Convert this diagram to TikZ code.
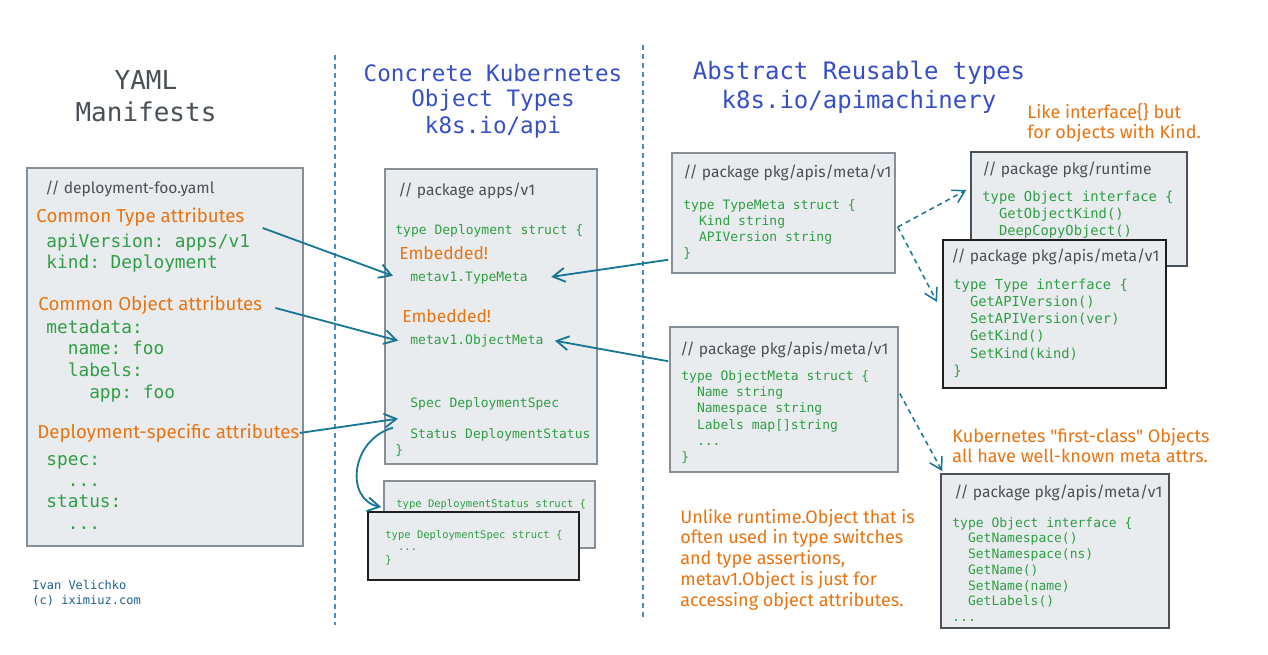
\documentclass[tikz,border=0pt]{standalone}
\usepackage{fontspec}
\setmainfont{Fira Sans}
\setmonofont{DejaVu Sans Mono}
\newfontfamily\quotefont{Fira Sans}[Ligatures=TeXOff]
\usetikzlibrary{arrows.meta,fit}

\definecolor{codegreen}{RGB}{47,158,68}
\definecolor{noteorange}{RGB}{235,115,15}
\definecolor{titleblue}{RGB}{54,79,199}
\definecolor{titlegray}{RGB}{73,80,87}
\definecolor{linkteal}{RGB}{22,118,148}
\definecolor{sepblue}{RGB}{74,140,196}
\definecolor{boxfill}{RGB}{233,236,239}
\definecolor{boxline}{RGB}{134,142,150}
\definecolor{darkline}{RGB}{73,80,87}
\definecolor{cmtgray}{RGB}{73,80,87}
\definecolor{creditblue}{RGB}{28,96,140}

\newcommand{\codedots}{.{}.{}.}
\newcommand{\straightquote}{{\quotefont\symbol{34}}}

\tikzset{
  codebox/.style={draw=boxline, fill=boxfill, line width=0.75pt, inner sep=0pt},
  darkbox/.style={codebox, draw=darkline},
  blackbox/.style={codebox, draw=black!88, line width=1pt},
  code/.style={text=codegreen, font=\ttfamily\fontsize{6.5pt}{8pt}\selectfont, inner sep=0pt, anchor=mid west},
  midcode/.style={code, font=\ttfamily\fontsize{6.9pt}{8pt}\selectfont},
  bigcode/.style={code, font=\ttfamily\fontsize{8.9pt}{10pt}\selectfont},
  smallcode/.style={code, font=\ttfamily\fontsize{5.25pt}{6pt}\selectfont},
  cmt/.style={text=cmtgray, font=\fontsize{7.8pt}{10pt}\selectfont, inner sep=0pt, anchor=mid west},
  note/.style={text=noteorange, font=\fontsize{9pt}{10pt}\selectfont, inner sep=0pt, anchor=mid west},
  bignote/.style={note, font=\fontsize{9.35pt}{12pt}\selectfont},
  title/.style={text=titleblue, font=\ttfamily\fontsize{11.3pt}{13pt}\selectfont, inner sep=0pt},
  credit/.style={text=creditblue, font=\ttfamily\fontsize{6pt}{7pt}\selectfont, inner sep=0pt, anchor=mid west},
  sep/.style={draw=sepblue, line width=1pt, dash pattern=on 2.5pt off 2pt},
  link/.style={-{Straight Barb[length=6pt,width=7pt]}, draw=linkteal, line width=0.9pt},
  dlink/.style={link, line width=0.75pt, dash pattern=on 2.5pt off 2pt}
}

\begin{document}
\begin{tikzpicture}[x=0.5pt, y=-0.5pt]
    \useasboundingbox[fill=white] (0,0) rectangle (1268,654);

    % Separators
    \draw[sep] (335,55) -- (335,625);
    \draw[sep] (643,45) -- (643,620);

    % Titles
    \node[title, text=titlegray, font=\ttfamily\fontsize{13pt}{15pt}\selectfont] (yaml0) at (146,80) {YAML};
    \node[title, text=titlegray, font=\ttfamily\fontsize{13pt}{15pt}\selectfont] (yaml1) at (146,112) {Manifests};
    \foreach \t [count=\i from 0] in {Concrete Kubernetes, Object Types, k8s.io/api}
        \node[title] (conc\i) at (493,73+27*\i) {\t};
    \foreach \t [count=\i from 0] in {Abstract Reusable types, k8s.io/apimachinery}
        \node[title, font=\ttfamily\fontsize{12pt}{14pt}\selectfont] (abst\i) at (859,73+29*\i) {\t};

    % YAML manifest
    \node[codebox, fit={(27,168) (303,546)}] (yamlbox) {};
    \node[cmt] (yamlcmt) at (45,188) {// deployment-foo.yaml};
    \node[bignote] (cta) at (36,217) {Common Type attributes};
    \foreach \t [count=\i from 0] in {apiVersion: apps/v1, kind: Deployment}
        \node[bigcode] (ya\i) at (46,242+21.5*\i) {\t};
    \node[bignote] (coa) at (38,305) {Common Object attributes};
    \foreach \t [count=\i from 0] in {metadata:, \ \ name: foo, \ \ labels:, \ \ \ \ app: foo}
        \node[bigcode] (yb\i) at (46,328+21.7*\i) {\t};
    \node[bignote] (dsa) at (37,433) {Deployment-specific attributes};
    \foreach \t [count=\i from 0] in {spec:, \ \ \codedots, status:, \ \ \codedots}
        \node[bigcode] (yc\i) at (46,460+21.3*\i) {\t};

    % Credit
    \foreach \t [count=\i from 0] in {Ivan Velichko, (c) iximiuz.com}
        \node[credit] (credit\i) at (32,584+15*\i) {\t};

    % Deployment struct
    \node[codebox, fit={(385,169) (597,464)}] (depbox) {};
    \node[cmt] (depcmt) at (398,190) {// package apps/v1};
    \node[code] (dep0) at (395,229) {type Deployment struct \{};
    \node[note, font=\fontsize{8.7pt}{10pt}\selectfont] (emb1) at (399,254) {Embedded!};
    \node[code] (tmfield) at (410,276) {metav1.TypeMeta};
    \node[note, font=\fontsize{8.7pt}{10pt}\selectfont] (emb2) at (402,317) {Embedded!};
    \node[code] (omfield) at (410,339) {metav1.ObjectMeta};
    \node[code] (specfield) at (410,402) {Spec DeploymentSpec};
    \node[code] (statusfield) at (410,433) {Status DeploymentStatus};
    \node[code] (dep1) at (395,449) {\}};

    % Spec and Status structs
    \node[codebox, fit={(384,481) (595,548)}] (statusbox) {};
    \node[smallcode] (st0) at (396,502) {type DeploymentStatus struct \{};
    \node[blackbox, fit={(368,512) (579,580)}] (specbox) {};
    \foreach \t [count=\i from 0] in {type DeploymentSpec struct \{, \ \ \codedots, \}}
        \node[smallcode] (sp\i) at (385,533+12.5*\i) {\t};

    % TypeMeta
    \node[codebox, fit={(672,153) (895,273)}] (tmbox) {};
    \node[cmt] (tmcmt) at (683,172) {// package pkg/apis/meta/v1};
    \foreach \t [count=\i from 0] in {type TypeMeta struct \{, \ \ Kind string, \ \ APIVersion string, \}}
        \node[code] (tm\i) at (683,204+16*\i) {\t};

    % ObjectMeta
    \node[codebox, fit={(670,327) (898,472)}] (ombox) {};
    \node[cmt] (omcmt) at (680,349) {// package pkg/apis/meta/v1};
    \foreach \t [count=\i from 0] in {type ObjectMeta struct \{, \ \ Name string, \ \ Namespace string, \ \ Labels map[]string, \ \ \codedots, \}}
        \node[code] (om\i) at (681,375+16.3*\i) {\t};

    % runtime.Object
    \node[darkbox, fit={(971,152) (1187,266)}] (rtbox) {};
    \node[cmt] (rtcmt) at (982,169) {// package pkg/runtime};
    \foreach \t [count=\i from 0] in {type Object interface \{, \ \ GetObjectKind(), \ \ DeepCopyObject()}
        \node[midcode] (rt\i) at (982,196+17*\i) {\t};

    % metav1.Type
    \node[blackbox, fit={(943,240) (1166,388)}] (typebox) {};
    \node[cmt] (typecmt) at (951,256) {// package pkg/apis/meta/v1};
    \foreach \t [count=\i from 0] in {type Type interface \{, \ \ GetAPIVersion(), \ \ SetAPIVersion(ver), \ \ GetKind(), \ \ SetKind(kind), \}}
        \node[midcode] (ty\i) at (953,284+17.2*\i) {\t};

    % metav1.Object
    \node[darkbox, fit={(941,474) (1169,628)}] (objbox) {};
    \node[cmt] (objcmt) at (954,492) {// package pkg/apis/meta/v1};
    \foreach \t [count=\i from 0] in {type Object interface \{, \ \ GetNamespace(), \ \ SetNamespace(ns), \ \ GetName(), \ \ SetName(name), \ \ GetLabels(), \codedots}
        \node[code] (ob\i) at (952,522+15.7*\i) {\t};

    % Notes
    \foreach \t [count=\i from 0] in {Like interface\{\} but, for objects with Kind.}
        \node[note] (like\i) at (1027,113+20*\i) {\t};
    \foreach \t [count=\i from 0] in {Kubernetes \straightquote first-class\straightquote\ Objects, all have well-known meta attrs.}
        \node[note] (first\i) at (952,437+20*\i) {\t};
    \foreach \t [count=\i from 0] in {Unlike runtime.Object that is, often used in type switches, {and type assertions,}, metav1.Object is just for, accessing object attributes.}
        \node[note] (unlike\i) at (680,518+20.7*\i) {\t};

    % Arrows
    \draw[link] ([shift={(18,11)}]cta.east) -- ([shift={(-17,-2)}]tmfield.west);
    \draw[link] ([shift={(13,3)}]coa.east) -- ([shift={(-12,0)}]omfield.west);
    \draw[link] (dsa.east) -- ([shift={(-12,15)}]specfield.west);
    \draw[link] ([shift={(-17,24)}]specfield.west) .. controls (350,440) and (345,500) .. ([shift={(-2,-7.5)}]statusbox.west);
    \draw[link] ([shift={(-3,-14)}]tmbox.south west) -- ([shift={(23,-1)}]tmfield.east);
    \draw[link] ([shift={(-1,35)}]ombox.north west) -- ([shift={(11,0)}]omfield.east);
    \draw[dlink] ([shift={(2,14)}]tmbox.east) -- ([shift={(-4,-19)}]rtbox.west);
    \draw[dlink] ([shift={(2,14)}]tmbox.east) -- ([shift={(-5,-12)}]typebox.west);
    \draw[dlink] ([shift={(1,-6)}]ombox.east) -- ([shift={(2,-2)}]objbox.north west);
\end{tikzpicture}
\end{document}
